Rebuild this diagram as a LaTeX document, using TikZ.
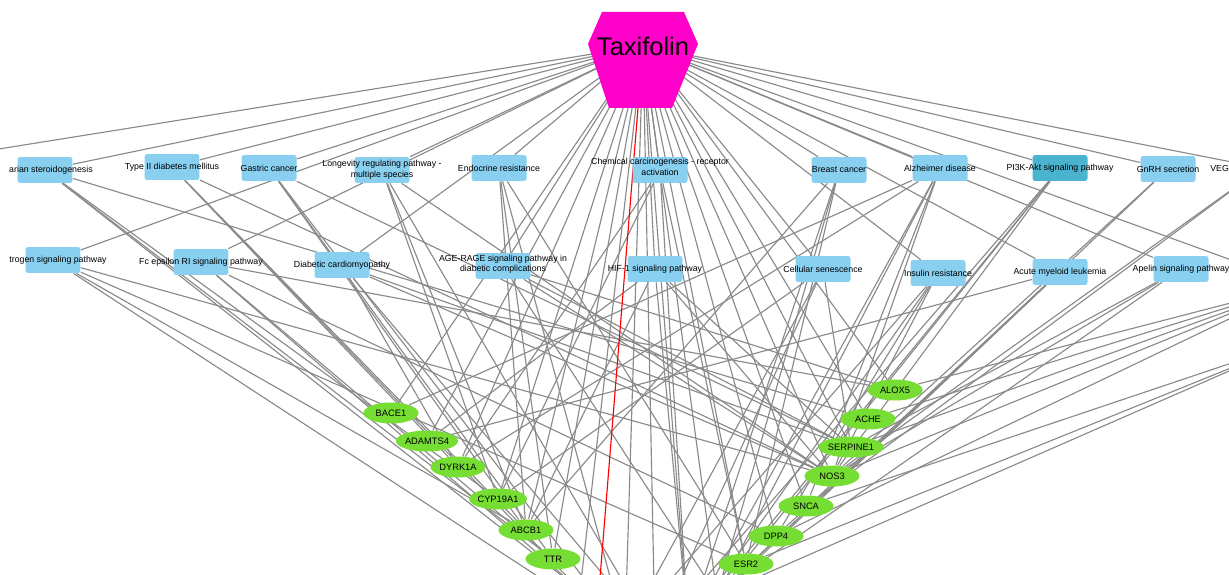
\documentclass[tikz,border=0pt]{standalone}
\usepackage{fontspec}
\setmainfont{Liberation Sans}
\usetikzlibrary{shapes.geometric}
\definecolor{pwblue}{HTML}{88CFF0}
\definecolor{pwdark}{HTML}{4AB3CE}
\definecolor{genegreen}{HTML}{76DD33}
\definecolor{taxipink}{HTML}{FF00C8}
\definecolor{edgegray}{HTML}{8A8A8A}
\pgfdeclarelayer{bg}
\pgfsetlayers{bg,main}

\begin{document}
\begin{tikzpicture}[x=0.02cm,y=-0.02cm,
  pw/.style={rectangle,rounded corners=1.5pt,fill=pwblue,minimum width=1.1cm,minimum height=0.52cm,inner sep=0pt},
  pwd/.style={pw,fill=pwdark},
  lbl/.style={font=\fontsize{5}{6}\selectfont,inner sep=0pt,align=center},
  gene/.style={ellipse,fill=genegreen,minimum width=1.1cm,minimum height=0.42cm,inner sep=0pt,font=\fontsize{5.3}{6}\selectfont},
  edge/.style={edgegray,line width=0.65pt},
  hit/.style={red,line width=0.65pt}]
\useasboundingbox (0,0) rectangle (1229,574);

% compound
\fill[taxipink] (602,12)--(684,12)--(698,44)--(672,108)--(609,108)--(588,44)--cycle;
\node[font=\fontsize{14.5}{16}\selectfont,inner sep=0pt] (taxi) at (643,46) {Taxifolin};

% pathways, first row
\node[pw,label={[lbl,xshift=0.12cm]center:arian steroidogenesis}] (ovar) at (45,170) {};
\node[pw,label={[lbl]center:Type II diabetes mellitus}] (t2d) at (172,167) {};
\node[pw,label={[lbl]center:Gastric cancer}] (gastric) at (269,168) {};
\node[pw,label={[lbl]center:Longevity regulating pathway -\\multiple species}] (longev) at (382,170) {};
\node[pw,label={[lbl]center:Endocrine resistance}] (endo) at (499,168) {};
\node[pw,label={[lbl,yshift=0.06cm]center:Chemical carcinogenesis - receptor\\activation}] (chem) at (660,170) {};
\node[pw,label={[lbl]center:Breast cancer}] (breast) at (839,170) {};
\node[pw,label={[lbl]center:Alzheimer disease}] (alz) at (940,168) {};
\node[pwd,label={[lbl]center:PI3K-Akt signaling pathway}] (pi3k) at (1060,168) {};
\node[pw,label={[lbl]center:GnRH secretion}] (gnrh) at (1168,169) {};
\node[lbl,anchor=west] (veglbl) at (1210,168) {VEG};

% pathways, second row
\node[pw,label={[lbl,xshift=0.1cm]center:trogen signaling pathway}] (estro) at (53,260) {};
\node[pw,label={[lbl]center:Fc epsilon RI signaling pathway}] (fceri) at (201,262) {};
\node[pw,label={[lbl]center:Diabetic cardiomyopathy}] (dcm) at (342,265) {};
\node[pw,label={[lbl,yshift=0.04cm]center:AGE-RAGE signaling pathway in\\diabetic complications}] (agerage) at (503,266) {};
\node[pw,label={[lbl]center:HIF-1 signaling pathway}] (hif) at (655,269) {};
\node[pw,label={[lbl]center:Cellular senescence}] (senes) at (823,269) {};
\node[pw,label={[lbl]center:Insulin resistance}] (insres) at (938,273) {};
\node[pw,label={[lbl]center:Acute myeloid leukemia}] (aml) at (1060,272) {};
\node[pw,label={[lbl]center:Apelin signaling pathway}] (apelin) at (1181,269) {};

% targets
\node[gene] (bace1) at (391,413) {BACE1};
\node[gene] (adamts4) at (427,441) {ADAMTS4};
\node[gene] (dyrk1a) at (458,467) {DYRK1A};
\node[gene] (cyp19a1) at (498,499) {CYP19A1};
\node[gene] (abcb1) at (526,530) {ABCB1};
\node[gene] (ttr) at (553,559) {TTR};
\node[gene] (alox5) at (895,390) {ALOX5};
\node[gene] (ache) at (868,419) {ACHE};
\node[gene] (serpine1) at (851,447) {SERPINE1};
\node[gene] (nos3) at (832,476) {NOS3};
\node[gene] (snca) at (806,506) {SNCA};
\node[gene] (dpp4) at (776,536) {DPP4};
\node[gene] (esr2) at (746,564) {ESR2};

% ends outside the frame
\coordinate (vegf) at (1262,168);
\coordinate (offA) at (-120,168);
\coordinate (offR1) at (1300,285);
\coordinate (offR2) at (1300,340);
\coordinate (lo1) at (580,590);
\coordinate (lo2) at (597,615);
\coordinate (lo3) at (625,632);
\coordinate (lo4) at (655,636);
\coordinate (lo5) at (688,625);
\coordinate (lo6) at (717,595);

\begin{pgfonlayer}{bg}
\clip (0,0) rectangle (1229,574);
\foreach \t in {ovar,t2d,gastric,longev,endo,chem,breast,alz,pi3k,gnrh,vegf,
  estro,fceri,dcm,agerage,hif,senes,insres,aml,apelin,offA,offR1,
  bace1,adamts4,dyrk1a,cyp19a1,abcb1,ttr,alox5,ache,serpine1,nos3,snca,dpp4,esr2,
  lo1,lo3,lo4,lo5,lo6}
  \draw[edge] (taxi) -- (\t);
\foreach \p/\g in {ovar/cyp19a1,ovar/ttr,ovar/lo1,ovar/ache,
  t2d/dyrk1a,t2d/abcb1,t2d/lo1,t2d/nos3,
  gastric/abcb1,gastric/ttr,gastric/lo3,gastric/serpine1,
  longev/cyp19a1,longev/abcb1,longev/lo4,longev/nos3,
  endo/esr2,endo/abcb1,endo/ttr,endo/lo3,
  chem/cyp19a1,chem/esr2,chem/lo5,chem/dyrk1a,
  breast/esr2,breast/lo6,breast/lo5,breast/abcb1,
  alz/bace1,alz/nos3,alz/snca,alz/lo5,alz/lo6,alz/dyrk1a,
  pi3k/nos3,pi3k/lo4,pi3k/lo5,pi3k/lo6,
  gnrh/nos3,gnrh/lo6,vegf/nos3,vegf/snca,
  estro/esr2,estro/nos3,estro/lo2,estro/abcb1,
  fceri/alox5,fceri/lo1,fceri/ttr,fceri/dpp4,
  dcm/nos3,dcm/dyrk1a,dcm/lo4,dcm/serpine1,
  agerage/serpine1,agerage/nos3,agerage/lo6,agerage/alox5,
  hif/serpine1,hif/nos3,hif/abcb1,hif/lo5,hif/adamts4,
  senes/serpine1,senes/lo3,senes/lo4,senes/cyp19a1,
  insres/nos3,insres/lo3,insres/lo5,insres/dpp4,
  aml/lo5,aml/lo6,aml/dpp4,aml/adamts4,
  apelin/nos3,apelin/serpine1,apelin/lo4,
  offR1/alox5,offR1/ache,offR1/serpine1,offR1/nos3,offR1/dpp4,
  offR2/snca,offR2/esr2,offR2/lo6}
  \draw[edge] (\p) -- (\g);
\draw[hit] (taxi) -- (lo2);
\end{pgfonlayer}
\end{tikzpicture}
\end{document}
